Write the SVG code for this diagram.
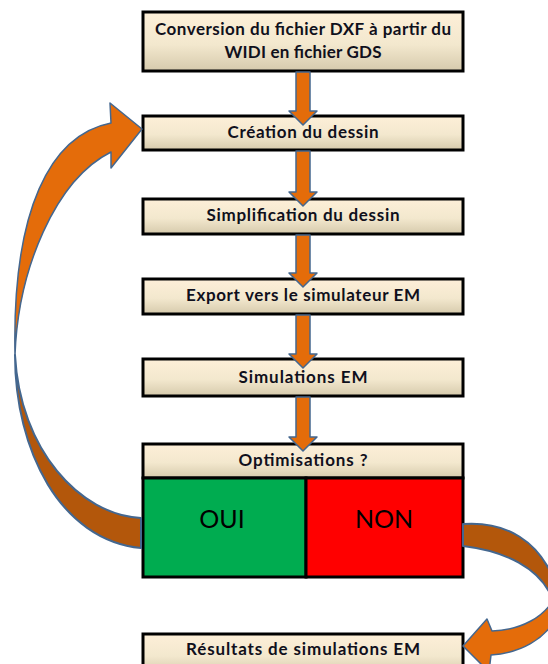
<svg xmlns="http://www.w3.org/2000/svg" width="548" height="664" viewBox="0 0 548 664">
<defs>
<linearGradient id="cream" x1="0" y1="0" x2="0" y2="1">
<stop offset="0" stop-color="#FDEFD8"/>
<stop offset="0.55" stop-color="#F3E8CE"/>
<stop offset="1" stop-color="#D6CAAC"/>
</linearGradient>
<style>
.box{fill:url(#cream);stroke:#000;stroke-width:3}
.lbl{font-family:Lato,"Open Sans","Liberation Sans",sans-serif;font-weight:bold;font-size:17px;fill:#10101c;text-anchor:middle}
.big{font-family:Lato,"Open Sans","Liberation Sans",sans-serif;font-size:25px;fill:#000;text-anchor:middle}
.arr{fill:#E46C0A;stroke:#44678F;stroke-width:1.5;stroke-linejoin:round}
.arrd{fill:#B3570B;stroke:#44678F;stroke-width:2;stroke-linejoin:round}
</style>
</defs>
<rect width="548" height="664" fill="#fff"/>
<g id="n1"><rect class="box" x="143" y="12" width="320" height="59"/>
<text class="lbl" x="303" y="35" textLength="296">Conversion du fichier DXF à partir du</text>
<text class="lbl" x="303" y="58" textLength="157">WIDI en fichier GDS</text></g>
<g id="n2"><rect class="box" x="143" y="116" width="320" height="34"/>
<text class="lbl" x="303" y="138" textLength="151">Création du dessin</text></g>
<g id="n3"><rect class="box" x="143" y="199" width="320" height="35"/>
<text class="lbl" x="303" y="221" textLength="193">Simplification du dessin</text></g>
<g id="n4"><rect class="box" x="143" y="279" width="320" height="35"/>
<text class="lbl" x="303" y="301" textLength="234">Export vers le simulateur EM</text></g>
<g id="n5"><rect class="box" x="143" y="359" width="320" height="37"/>
<text class="lbl" x="303" y="383" textLength="129">Simulations EM</text></g>
<g id="n6"><rect class="box" x="143" y="444" width="320" height="34"/>
<text class="lbl" x="303" y="466" textLength="129">Optimisations ?</text>
<rect x="143" y="478" width="163" height="99" fill="#00AC50" stroke="#000" stroke-width="3"/>
<rect x="306" y="478" width="157" height="99" fill="#FF0000" stroke="#000" stroke-width="3"/>
<text class="big" x="222" y="528">OUI</text>
<text class="big" x="384" y="528">NON</text></g>
<g id="n7"><rect class="box" x="143" y="634" width="320" height="40"/>
<text class="lbl" x="303" y="655" textLength="234">Résultats de simulations EM</text></g>
<g id="connectors">
<path class="arr" d="M296,72 H310 V111 H317 L303,125 L289,111 H296 Z"/>
<path class="arr" d="M296,151 H310 V192 H317 L303,206 L289,192 H296 Z"/>
<path class="arr" d="M296,235 H310 V273 H317 L303,287 L289,273 H296 Z"/>
<path class="arr" d="M296,315 H310 V354 H317 L303,368 L289,354 H296 Z"/>
<path class="arr" d="M296,397 H310 V437 H317 L303,451 L289,437 H296 Z"/>
<path class="arrd" d="M141,518 C80,515 20,450 15,355 C15,450 60,540 141,548 Z"/>
<path class="arr" d="M142,129 L111,168 L111,152 C55,180 18,270 15,355 C12,210 50,135 111,123 L110,103 Z"/>
<path class="arrd" d="M463,524 C505,521 540,540 556,585 L552,598 C540,568 505,551 463,546 Z"/>
<path class="arr" d="M556,595 C545,618 520,630 492,631 L487,619 L463,646 L489,672 L491,655 C520,653 545,640 558,615 Z"/>
</g>
</svg>
